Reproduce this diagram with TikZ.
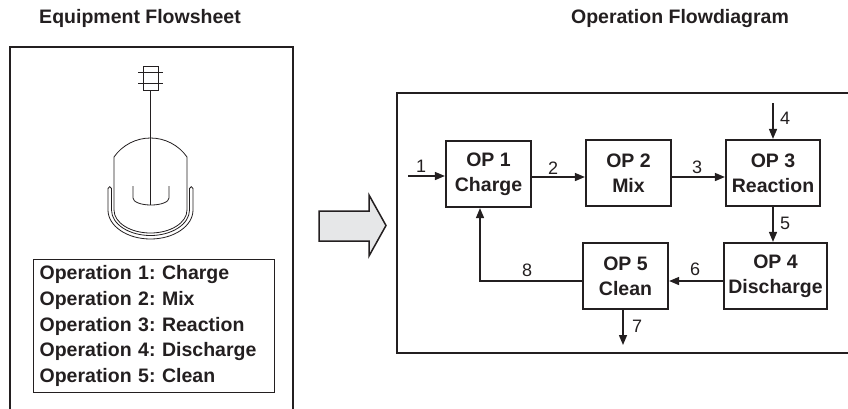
\documentclass[tikz,border=0pt]{standalone}
\usepackage{fontspec}
\setmainfont{Liberation Sans}
\usetikzlibrary{arrows.meta}
\definecolor{inkc}{RGB}{35,31,32}
\definecolor{arrowfill}{RGB}{230,231,232}
\frenchspacing
\begin{document}
\begin{tikzpicture}[x=1pt,y=-1pt,
  title/.style={font=\fontsize{19.5}{22}\selectfont\bfseries, text=inkc, inner sep=0pt},
  opbox/.style={draw=inkc, line width=2.2pt, minimum width=85pt, minimum height=66pt,
    align=center, font=\fontsize{19.5}{25}\selectfont\bfseries, inner sep=0pt, text=inkc},
  flow/.style={draw=inkc, line width=1.5pt, -{Triangle[length=10pt,width=8pt]}},
  num/.style={font=\fontsize{18}{18}\selectfont, text=inkc, inner sep=0pt},
  vessel/.style={draw=inkc, line width=0.8pt},
  frame/.style={draw=inkc, line width=1.3pt},
]
\useasboundingbox (0,0) rectangle (848,408);

% panel titles
\node[title] (t1) at (140,18) {Equipment Flowsheet};
\node[title] (t2) at (680,18) {Operation Flowdiagram};

% left panel frame
\draw[frame] (10,420) -- (10,47) -- (293,47) -- (293,420);

% agitated vessel: motor, shaft, head, shell, jacket, impeller
\draw[vessel] (143,66) rectangle (158,90);
\draw[vessel] (138,72) -- (163,72);
\draw[vessel] (138,83) -- (163,83);
\draw[vessel] (150.5,90) -- (150.5,205);
\draw[vessel] (114,210) -- (114,157)
  .. controls (122.3,145.1) and (136,138) .. (150.5,138)
  .. controls (165,138) and (178.7,145.1) .. (187,157) -- (187,210);
\draw[vessel] (114,210) .. controls (114,222.7) and (130.3,233) .. (150.5,233)
  .. controls (170.7,233) and (187,222.7) .. (187,210);
\draw[vessel] (111.5,210) -- (111.5,188.5)
  .. controls (111.5,186) and (108,186) .. (108,188.5) -- (108,210)
  .. controls (108,226) and (127,239) .. (150.5,239)
  .. controls (174,239) and (193,226) .. (193,210) -- (193,188.5)
  .. controls (193,186) and (189.5,186) .. (189.5,188.5) -- (189.5,210)
  .. controls (189.5,224.1) and (172,235.5) .. (150.5,235.5)
  .. controls (129,235.5) and (111.5,224.1) .. (111.5,210);
\draw[vessel] (133,186) -- (133,198)
  .. controls (133,202) and (141,205) .. (151,205)
  .. controls (161,205) and (169,202) .. (169,198) -- (169,186);

% list of operations
\node[draw=inkc, line width=1.3pt, anchor=north west, minimum width=241pt,
  minimum height=133pt, text width=229pt, inner xsep=6pt, inner ysep=0pt,
  align=left, font=\fontsize{19.5}{25.6}\selectfont\bfseries, text=inkc] (ops) at (33,259)
  {Operation 1: Charge\\Operation 2: Mix\\Operation 3: Reaction\\Operation 4: Discharge\\Operation 5: Clean};

% block arrow between panels
\draw[draw=inkc, fill=arrowfill, line width=1.5pt, line join=miter]
  (319,211) -- (369,211) -- (369,195) -- (386,225.5) -- (369,256) -- (369,241) -- (319,241) -- cycle;

% right panel frame
\draw[draw=inkc, line width=2pt] (860,93) -- (397,93) -- (397,353) -- (860,353);

% operations
\node[opbox] (op1) at (488.5,174) {OP 1\\Charge};
\node[opbox] (op2) at (628.5,173) {OP 2\\Mix};
\node[opbox, minimum width=94pt] (op3) at (773,173) {OP 3\\Reaction};
\node[opbox, minimum width=103pt] (op4) at (775.5,276) {OP 4\\Discharge};
\node[opbox] (op5) at (625.5,276) {OP 5\\Clean};

\coordinate (in1) at (408,176);
\coordinate (in4) at (773,103);
\coordinate (out7) at (623,345);

% streams
\draw[flow] (in1) -- (in1 -| op1.west);
\draw[flow] ([yshift=-3pt]op1.east) -- ([yshift=-3pt]op1.east -| op2.west);
\draw[flow] ([yshift=-4pt]op2.east) -- ([yshift=-4pt]op2.east -| op3.west);
\draw[flow] (in4) -- (op3.north);
\draw[flow] (op3.south) -- (op3.south |- op4.north);
\draw[flow] ([yshift=-5pt]op4.west) -- ([yshift=-5pt]op4.west -| op5.east);
\draw[flow] (op5.south -| out7) -- (out7);
\draw[flow] ([yshift=-5pt]op5.west) -| ([xshift=-8.5pt]op1.south);

% stream numbers
\node[num] (n1) at (421,166) {1};
\node[num] (n2) at (553,168) {2};
\node[num] (n3) at (697,167) {3};
\node[num] (n4) at (785,118) {4};
\node[num] (n5) at (785,223) {5};
\node[num] (n6) at (695,269) {6};
\node[num] (n7) at (637,326) {7};
\node[num] (n8) at (527,270) {8};
\end{tikzpicture}
\end{document}
